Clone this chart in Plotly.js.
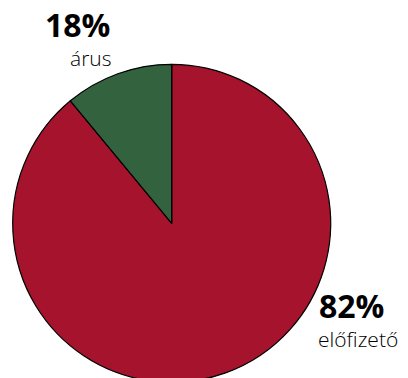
<!DOCTYPE html>
<html><head><meta charset="utf-8">
<script src="https://cdn.plot.ly/plotly-3.0.1.min.js"></script>
<style>html,body{margin:0;padding:0;overflow:hidden;background:#fff}#c{width:408px;height:390px}</style>
</head><body><div id="c"></div>
<script>
// categories and values (slice sizes as drawn in the picture; printed labels below)
const categories = ["előfizető", "árus"];
const drawnShares = [89, 11];
const printedLabels = ["82%", "18%"];
const colors = ["#A6132C", "#33623F"];

const W = 408, H = 390;
const px = (x) => x / W, py = (y) => (H - y) / H;

const cx = 171.7, cy = 223.3, r = 159;

const data = [{
  type: "pie",
  values: drawnShares,
  labels: categories,
  sort: false,
  direction: "clockwise",
  rotation: 0,
  textinfo: "none",
  hoverinfo: "none",
  marker: { colors: colors, line: { color: "#000000", width: 1.2 } },
  domain: { x: [px(cx - r), px(cx + r)], y: [py(cy + r), py(cy - r)] },
  showlegend: false
}];

const big = { family: "Open Sans, sans-serif", size: 32, color: "#000" };
const small = { family: "Open Sans, sans-serif", size: 21, color: "#000", weight: 300 };

const layout = {
  width: W, height: H,
  margin: { l: 0, r: 0, t: 0, b: 0 },
  paper_bgcolor: "#fff",
  showlegend: false,
  annotations: [
    { text: "<b>" + printedLabels[1] + "</b>", xref: "paper", yref: "paper", x: px(77.5), y: py(24), xanchor: "center", yanchor: "middle", borderpad: 0, showarrow: false, font: big },
    { text: categories[1], xref: "paper", yref: "paper", x: px(90), y: py(58), xanchor: "center", yanchor: "middle", borderpad: 0, showarrow: false, font: small },
    { text: "<b>" + printedLabels[0] + "</b>", xref: "paper", yref: "paper", x: px(318), y: py(305), xanchor: "left", yanchor: "middle", borderpad: 0, showarrow: false, font: big },
    { text: categories[0], xref: "paper", yref: "paper", x: px(317), y: py(339), xanchor: "left", yanchor: "middle", borderpad: 0, showarrow: false, font: small }
  ]
};

Plotly.newPlot("c", data, layout, { staticPlot: true, displayModeBar: false });
</script></body></html>
